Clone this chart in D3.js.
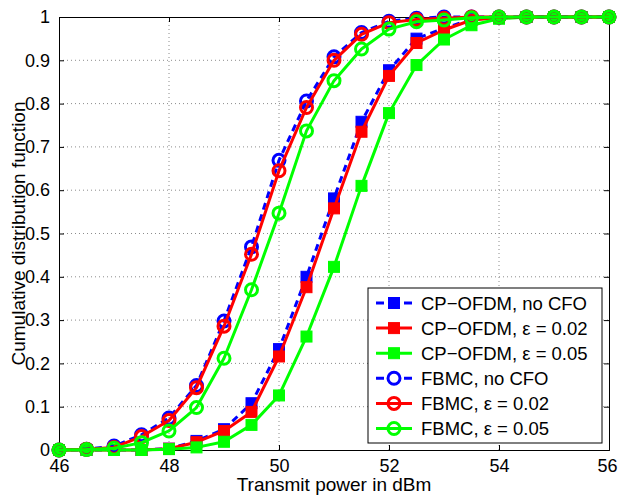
<!DOCTYPE html>
<html><head><meta charset="utf-8">
<script src="https://cdn.jsdelivr.net/npm/d3@7"></script>
<style>html,body{margin:0;padding:0;background:#fff;}svg{display:block;font-family:"Liberation Sans",Arial,sans-serif;}</style>
</head><body>
<svg id="c" width="618" height="498"></svg>
<script>
const power = [46,46.5,47,47.5,48,48.5,49,49.5,50,50.5,51,51.5,52,52.5,53,53.5,54,54.5,55,55.5,56];
const ofdmNoCFO = [0,0,0,0,0.003,0.021,0.048,0.108,0.233,0.400,0.581,0.758,0.877,0.950,0.974,0.995,0.998,1,1,1,1];
const ofdm002   = [0,0,0,0,0.003,0.018,0.044,0.088,0.216,0.376,0.558,0.735,0.864,0.940,0.970,0.993,0.998,1,1,1,1];
const ofdm005   = [0,0,0,0,0.002,0.006,0.019,0.058,0.126,0.262,0.423,0.610,0.778,0.889,0.948,0.981,0.996,1,1,1,1];
const fbmcNoCFO = [0,0.002,0.009,0.035,0.074,0.149,0.298,0.469,0.669,0.806,0.908,0.964,0.990,0.997,1,1,1,1,1,1,1];
const fbmc002   = [0,0.002,0.006,0.031,0.068,0.144,0.286,0.452,0.645,0.791,0.900,0.960,0.987,0.994,0.997,1,1,1,1,1,1];
const fbmc005   = [0,0.001,0.004,0.017,0.044,0.098,0.212,0.370,0.547,0.737,0.853,0.926,0.972,0.989,0.993,0.998,1,1,1,1,1];
const seriesNames = ["CP\u2212OFDM, no CFO","CP\u2212OFDM, \u03b5 = 0.02","CP\u2212OFDM, \u03b5 = 0.05","FBMC, no CFO","FBMC, \u03b5 = 0.02","FBMC, \u03b5 = 0.05"];
const seriesValues = [ofdmNoCFO, ofdm002, ofdm005, fbmcNoCFO, fbmc002, fbmc005];
const seriesColors = ["#0000ff","#ff0000","#00ff00","#0000ff","#ff0000","#00ff00"];
const seriesDashed = [true,false,false,true,false,false];
const seriesMarker = ["square","square","square","circle","circle","circle"];
const xTicks = [46,48,50,52,54,56];
const yTicks = [0,0.1,0.2,0.3,0.4,0.5,0.6,0.7,0.8,0.9,1];

const svg = d3.select("#c");
const L=59, R=609, T=17, B=450;
const x = d3.scaleLinear().domain([46,56]).range([L,R]);
const y = d3.scaleLinear().domain([0,1]).range([B,T]);

// grid
const g = svg.append("g");
g.selectAll(".gx").data(xTicks.slice(1,-1)).enter().append("line")
  .attr("x1",d=>x(d)).attr("x2",d=>x(d)).attr("y1",T).attr("y2",B)
  .attr("stroke","#8c8c8c").attr("stroke-width",1).attr("stroke-dasharray","1,3");
g.selectAll(".gy").data(yTicks.slice(1,-1)).enter().append("line")
  .attr("y1",d=>y(d)).attr("y2",d=>y(d)).attr("x1",L).attr("x2",R)
  .attr("stroke","#8c8c8c").attr("stroke-width",1).attr("stroke-dasharray","1,3");

// axes
const fmt = d => d===0?"0":(d===1?"1":d3.format(".1f")(d));
const xAxis = svg.append("g").attr("transform",`translate(0,${B})`)
  .call(d3.axisBottom(x).tickValues(xTicks).tickSize(-5).tickPadding(9).tickFormat(d3.format("d")));
const xAxisTop = svg.append("g").attr("transform",`translate(0,${T})`)
  .call(d3.axisTop(x).tickValues(xTicks).tickSize(-5).tickFormat(""));
const yAxis = svg.append("g").attr("transform",`translate(${L},0)`)
  .call(d3.axisLeft(y).tickValues(yTicks).tickSize(-5).tickPadding(9).tickFormat(fmt));
const yAxisR = svg.append("g").attr("transform",`translate(${R},0)`)
  .call(d3.axisRight(y).tickValues(yTicks).tickSize(-5).tickFormat(""));
[xAxis,xAxisTop,yAxis,yAxisR].forEach(a=>{
  a.select(".domain").attr("stroke","#000").attr("stroke-width",1);
  a.selectAll(".tick line").attr("stroke","#000");
  a.selectAll("text").attr("font-size",18).attr("fill","#000").attr("font-family","Liberation Sans, Arial, sans-serif");
});
// keep the last x tick label inside the window
xAxis.selectAll(".tick text").filter(d=>d===56).attr("text-anchor","end").attr("x",8);

// series
const line = d3.line().x((d,i)=>x(power[i])).y(d=>y(d));
const plot = svg.append("g");
seriesValues.forEach((vals,k)=>{
  const sg = plot.append("g");
  sg.append("path").datum(vals).attr("d",line).attr("fill","none")
    .attr("stroke",seriesColors[k]).attr("stroke-width",3)
    .attr("stroke-dasharray",seriesDashed[k]?"7,5":null).attr("stroke-linejoin","round");
  if(seriesMarker[k]==="square"){
    sg.selectAll("rect").data(vals).enter().append("rect")
      .attr("x",(d,i)=>x(power[i])-5.5).attr("y",d=>y(d)-5.5).attr("width",11).attr("height",11)
      .attr("fill",seriesColors[k]).attr("stroke",seriesColors[k]).attr("stroke-width",1);
  } else {
    sg.selectAll("circle").data(vals).enter().append("circle")
      .attr("cx",(d,i)=>x(power[i])).attr("cy",d=>y(d)).attr("r",6)
      .attr("fill","none").attr("stroke",seriesColors[k]).attr("stroke-width",3);
  }
});

// legend
const lg = svg.append("g");
const lx=368, ly=288, lw=234, lh=155;
lg.append("rect").attr("x",lx).attr("y",ly).attr("width",lw).attr("height",lh)
  .attr("fill","#fff").attr("stroke","#000").attr("stroke-width",1);
seriesNames.forEach((name,k)=>{
  const cy = ly+15+k*25.1;
  lg.append("line").attr("x1",lx+8).attr("x2",lx+44).attr("y1",cy).attr("y2",cy)
    .attr("stroke",seriesColors[k]).attr("stroke-width",3)
    .attr("stroke-dasharray",seriesDashed[k]?"8,20":null);
  if(seriesMarker[k]==="square"){
    lg.append("rect").attr("x",lx+26-5.5).attr("y",cy-5.5).attr("width",11).attr("height",11)
      .attr("fill",seriesColors[k]).attr("stroke",seriesColors[k]);
  } else {
    lg.append("circle").attr("cx",lx+26).attr("cy",cy).attr("r",6)
      .attr("fill","none").attr("stroke",seriesColors[k]).attr("stroke-width",3);
  }
  lg.append("text").attr("x",lx+53).attr("y",cy).attr("dy","0.36em")
    .attr("font-size",18.5).attr("fill","#000").text(name);
});

// axis labels
svg.append("text").attr("x",(L+R)/2).attr("y",491).attr("text-anchor","middle")
  .attr("font-size",19).attr("fill","#000").text("Transmit power in dBm");
svg.append("text").attr("transform",`translate(25,${(T+B)/2}) rotate(-90)`).attr("text-anchor","middle")
  .attr("font-size",19).attr("fill","#000").text("Cumulative distribution function");
</script>
</body></html>
